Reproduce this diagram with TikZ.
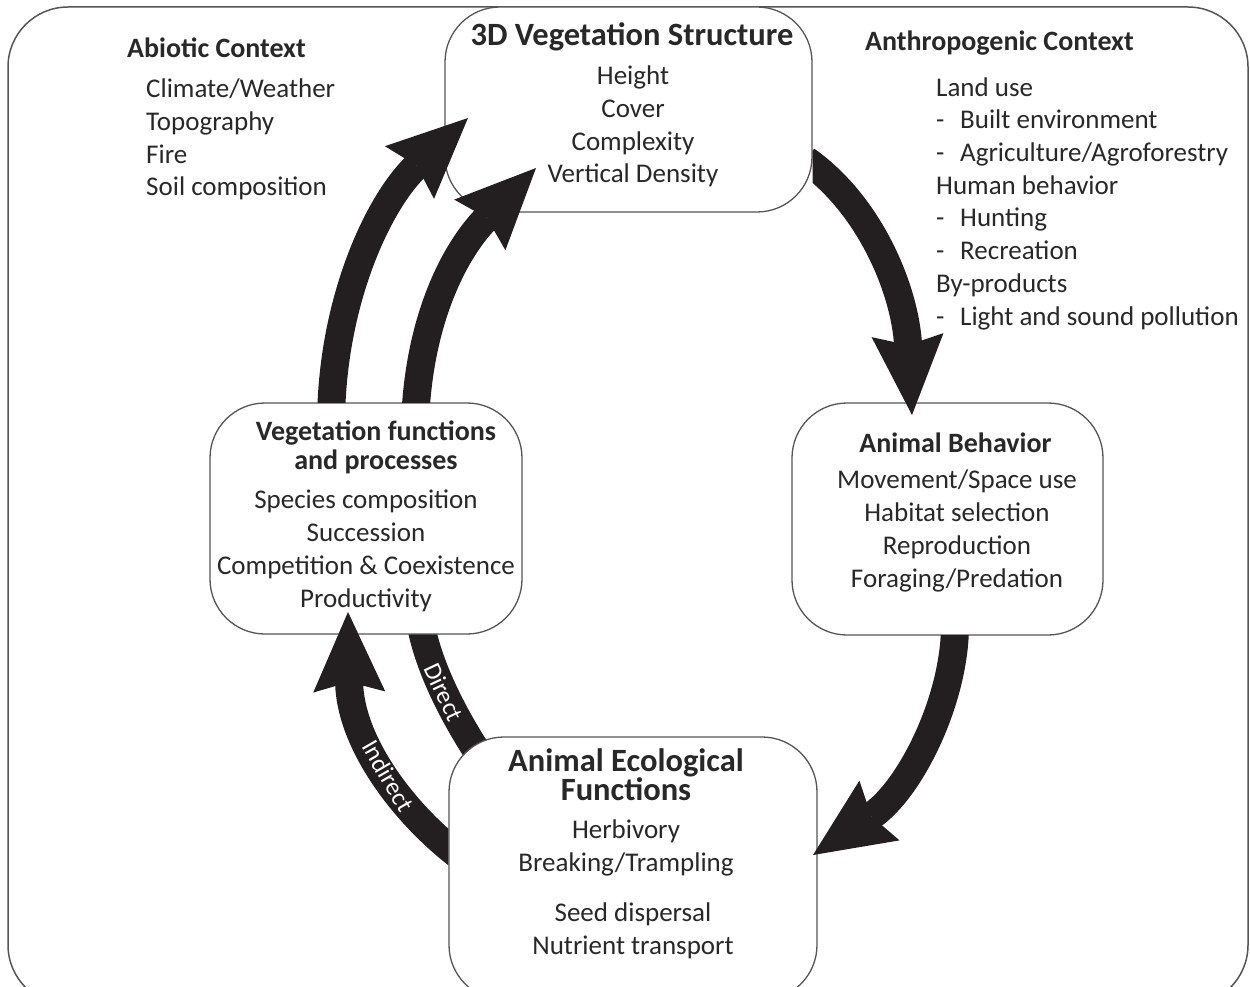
\documentclass[tikz,border=0pt]{standalone}
\usepackage{fontspec}
\setmainfont{Carlito}
\usetikzlibrary{arrows.meta,backgrounds}

\definecolor{inkgray}{RGB}{35,31,32}
\definecolor{textgray}{RGB}{40,40,40}
\definecolor{linegray}{RGB}{85,85,85}

\newcommand{\listdash}{\makebox[24pt][l]{-}}

\tikzset{
  box/.style={draw=linegray, line width=1.3pt, fill=white, rounded corners=55pt, inner sep=0pt},
  heading/.style={font=\fontsize{28}{29}\selectfont\bfseries, text=textgray, inner sep=0pt, align=center, anchor=base},
  bigheading/.style={heading, font=\fontsize{32.5}{29}\selectfont\bfseries},
  items/.style={font=\fontsize{27}{32.7}\selectfont, text=textgray, inner sep=0pt, align=center, anchor=base},
  fatarrow/.style={draw=inkgray, line width=28pt, -{Stealth[length=80pt, width=72pt, inset=10pt, line width=0pt]}},
  band/.style={draw=inkgray, line width=28pt},
  bandlabel/.style={sloped, text=white, font=\fontsize{25}{25}\selectfont, inner sep=0pt},
}

\begin{document}
\begin{tikzpicture}[x=1pt, y=-1pt]
  \useasboundingbox (0,0) rectangle (1250,987);
  \clip (0,0) rectangle (1250,987);

  % boxes
  \node[box, minimum width=367pt, minimum height=205pt] (veg3d) at (628.5,109.5) {};
  \node[box, minimum width=312pt, minimum height=231pt] (vfp) at (366,518.5) {};
  \node[box, minimum width=311pt, minimum height=232pt] (ab) at (947.5,519) {};
  \node[box, minimum width=368pt, minimum height=263pt] (aef) at (633,868.5) {};

  \begin{pgfonlayer}{background}
    \draw[draw=linegray, line width=1.5pt, rounded corners=60pt] (8,7) rectangle (1248,1005);
    \coordinate (vfp-direct) at (420,620);
    \coordinate (aef-direct) at (500,785);
    \draw[band] (vfp-direct) .. controls +(8,50) and +(-40,-55) .. (aef-direct)
      node[bandlabel, pos=0.45] {Direct};
  \end{pgfonlayer}

  % box texts (base = last line)
  \node[bigheading] (veg3d-title) at (632,46) {3D Vegetation Structure};
  \node[items] (veg3d-list) at (633,183) {Height\\Cover\\Complexity\\Vertical Density};

  \node[heading] (vfp-title) at (376,469) {Vegetation functions\\and processes};
  \node[items] (vfp-list) at (366,607) {Species composition\\Succession\\Competition \& Coexistence\\Productivity};

  \node[heading] (ab-title) at (955.5,452) {Animal Behavior};
  \node[items] (ab-list) at (957,587) {Movement/Space use\\Habitat selection\\Reproduction\\Foraging/Predation};

  \node[bigheading] (aef-title) at (626,800) {Animal Ecological\\Functions};
  \node[items] (aef-list) at (626,871) {Herbivory\\Breaking/Trampling};
  \node[items] (aef-list2) at (633,954) {Seed dispersal\\Nutrient transport};

  % context
  \node[heading, anchor=base west] (abiotic) at (127,58) {Abiotic Context};
  \node[items, align=left, anchor=base west] (abiotic-list) at (146,196) {Climate/Weather\\Topography\\Fire\\Soil composition};
  \node[heading, anchor=base west] (anthro) at (865,51) {Anthropogenic Context};
  \node[items, align=left, anchor=base west] (anthro-list) at (936,325) {Land use\\\listdash Built environment\\\listdash Agriculture/Agroforestry\\Human behavior\\\listdash Hunting\\\listdash Recreation\\By-products\\\listdash Light and sound pollution};

  % arrows
  \coordinate (veg3d-out) at (806,160);
  \coordinate (ab-in) at (912,415);
  \coordinate (ab-out) at (955,625);
  \coordinate (aef-in) at (813,855);
  \coordinate (aef-out) at (458,855);
  \coordinate (vfp-in) at (348,612);
  \coordinate (vfp-out1) at (331,425);
  \coordinate (veg3d-in1) at (468,118);
  \coordinate (vfp-out2) at (415,425);
  \coordinate (veg3d-in2) at (536,168);

  \begin{scope}
    \clip (veg3d.east) rectangle (1250,987);
    \draw[fatarrow] (veg3d-out) .. controls +(64,45) and +(-7,-125) .. (ab-in);
  \end{scope}
  \begin{scope}
    \clip (ab.south west) rectangle (1250,987);
    \draw[fatarrow] (ab-out) .. controls +(0,75) and +(97,-65) .. (aef-in);
  \end{scope}
  \begin{scope}
    \clip (0,0) rectangle (aef.south west);
    \draw[fatarrow] (aef-out) .. controls +(-58,-45) and +(2,128) .. (vfp-in)
      node[bandlabel, pos=0.45] {Indirect};
  \end{scope}
  \begin{scope}
    \clip (0,0) rectangle (veg3d.east |- vfp.north);
    \draw[fatarrow] (vfp-out1) .. controls +(0,-125) and +(-88,82) .. (veg3d-in1);
    \draw[fatarrow] (vfp-out2) .. controls +(3,-105) and +(-81,82) .. (veg3d-in2);
  \end{scope}
\end{tikzpicture}
\end{document}
